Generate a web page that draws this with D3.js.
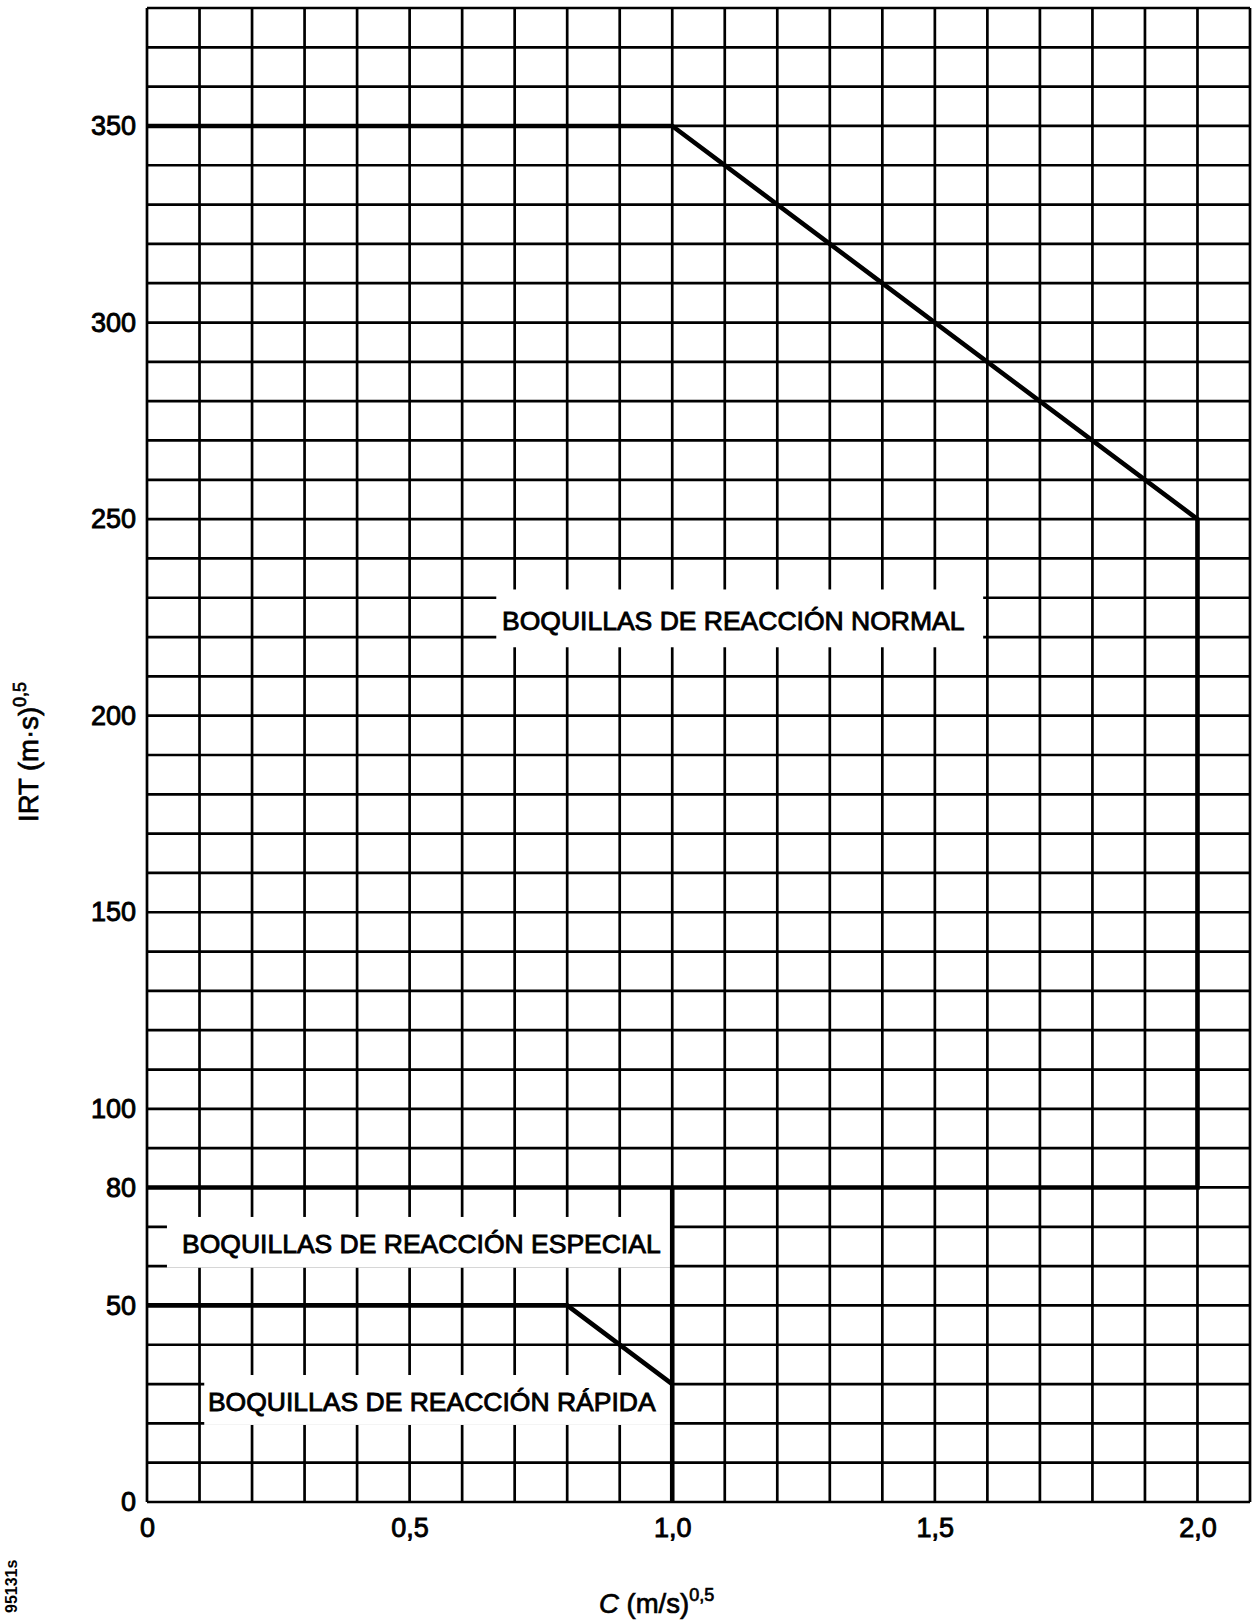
<!DOCTYPE html>
<html>
<head>
<meta charset="utf-8">
<script src="https://cdn.jsdelivr.net/npm/d3@7"></script>
<style>
  body { margin: 0; background: #fff; }
  svg { display: block; }
  text { font-family: "Liberation Sans", Arial, sans-serif; fill: #000; }
</style>
</head>
<body>
<svg width="1252" height="1622"></svg>
<script>
// values
const xTicks = [0, 0.5, 1.0, 1.5, 2.0];
const yTicks = [0, 50, 80, 100, 150, 200, 250, 300, 350];
const normalBoundary = [[0, 350], [1.0, 350], [2.0, 250], [2.0, 80], [0, 80]];
const especialBoundary = [[1.0, 80], [1.0, 0]];
const rapidaBoundary = [[0, 50], [0.8, 50], [1.0, 30]];
const regionLabels = ["BOQUILLAS DE REACCIÓN NORMAL", "BOQUILLAS DE REACCIÓN ESPECIAL", "BOQUILLAS DE REACCIÓN RÁPIDA"];

let svg = d3.select('svg');

let x = d3.scaleLinear().domain([0, 2.1]).range([147, 1250]);
let y = d3.scaleLinear().domain([0, 380]).range([1502, 8]);

let comma = d3.formatLocale({decimal: ',', thousands: '.', grouping: [3], currency: ['', '']}).format('.1f');

// grid, every 0.1 and every 10
let grid = svg.append('g').attr('stroke', '#000').attr('stroke-width', 2.7);
grid.selectAll('.vx')
    .data(d3.range(0, 22).map(i => i / 10))
    .enter()
    .append('line')
    .attr('x1', d => x(d)).attr('x2', d => x(d))
    .attr('y1', y(0)).attr('y2', y(380));
grid.selectAll('.hy')
    .data(d3.range(0, 39).map(i => i * 10))
    .enter()
    .append('line')
    .attr('y1', d => y(d)).attr('y2', d => y(d))
    .attr('x1', x(0)).attr('x2', x(2.1));

// white boxes behind the region names
let boxes = [
    {x0: 0.665, x1: 1.592, y0: 217.4, y1: 232.1},
    {x0: 0.038, x1: 1.0, y0: 59.6, y1: 72.5},
    {x0: 0.109, x1: 1.0, y0: 19.6, y1: 32.3}
];
svg.selectAll('.box')
    .data(boxes)
    .enter()
    .append('rect')
    .attr('fill', '#fff')
    .attr('x', d => x(d.x0))
    .attr('width', d => x(d.x1) - x(d.x0))
    .attr('y', d => y(d.y1))
    .attr('height', d => y(d.y0) - y(d.y1));

// boundaries
let line = d3.line().x(d => x(d[0])).y(d => y(d[1]));
[normalBoundary, especialBoundary, rapidaBoundary].forEach(function(b) {
    svg.append('path')
        .attr('d', line(b))
        .attr('fill', 'none')
        .attr('stroke', '#000')
        .attr('stroke-width', 4.6)
        .attr('stroke-linejoin', 'miter');
});

// region names
let labelPos = [[0.676, 221.9], [0.0667, 63.4], [0.116, 23.2]];
svg.selectAll('.region')
    .data(regionLabels)
    .enter()
    .append('text')
    .attr('x', (d, i) => x(labelPos[i][0]))
    .attr('y', (d, i) => y(labelPos[i][1]))
    .attr('font-size', 26.5)
    .attr('stroke', '#000')
    .attr('stroke-width', 0.9)
    .text(d => d);

// axes
let yAxis = svg.append('g')
    .attr('transform', `translate(${x(0)},0)`)
    .call(d3.axisLeft(y).tickValues(yTicks).tickSize(0).tickPadding(11).tickFormat(d3.format('d')));
let xAxis = svg.append('g')
    .attr('transform', `translate(0,${y(0)})`)
    .call(d3.axisBottom(x).tickValues(xTicks).tickSize(0).tickPadding(16).tickFormat(d => d === 0 ? '0' : comma(d)));
[xAxis, yAxis].forEach(function(a) {
    a.select('.domain').remove();
    a.selectAll('text')
        .attr('font-family', '"Liberation Sans", Arial, sans-serif')
        .attr('font-size', 27)
        .attr('fill', '#000')
        .attr('stroke', '#000')
        .attr('stroke-width', 0.9);
});

// axis titles
let xt = svg.append('text')
    .attr('x', 599).attr('y', 1613)
    .attr('font-size', 27.5)
    .attr('stroke', '#000').attr('stroke-width', 0.7);
xt.append('tspan').attr('font-style', 'italic').text('C');
xt.append('tspan').text(' (m/s)');
xt.append('tspan').attr('font-size', 18).attr('dy', -12).text('0,5');

let yt = svg.append('text')
    .attr('transform', 'translate(38,822) rotate(-90)')
    .attr('font-size', 27.5)
    .attr('stroke', '#000').attr('stroke-width', 0.7);
yt.append('tspan').text('IRT (m·s)');
yt.append('tspan').attr('font-size', 18).attr('dy', -12).text('0,5');

svg.append('text')
    .attr('transform', 'translate(17,1613) rotate(-90)')
    .attr('font-size', 16)
    .attr('font-weight', 'bold')
    .text('95131s');
</script>
</body>
</html>
